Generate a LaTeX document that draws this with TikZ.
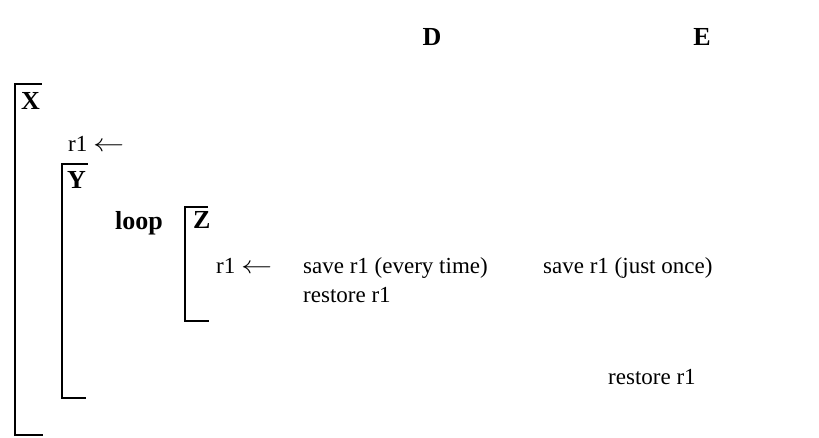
\documentclass[tikz,border=0pt]{standalone}
\usepackage{fontspec}
\setmainfont{Liberation Serif}
\newcommand{\larr}{\scalebox{1.25}[1]{$\leftarrow$}}
\begin{document}
\begin{tikzpicture}[x=1pt,y=-1pt,
  txt/.style={inner sep=0pt,anchor=base west,font=\fontsize{23}{28}\selectfont},
  btxt/.style={txt,font=\fontsize{26}{30}\selectfont\bfseries},
  brk/.style={line width=2pt,line cap=rect}]
\useasboundingbox (0,0) rectangle (819,438);
% column headers
\node[btxt,anchor=base] (D) at (432,46) {D};
\node[btxt,anchor=base] (E) at (702,46) {E};
% bracket X
\node[btxt] (X) at (21,110) {X};
\draw[brk] (41,84) -- (15,84) -- (15,435) -- (42,435);
\node[txt] (r1a) at (68,152) {r1 \larr};
% bracket Y
\node[btxt] (Y) at (67,189) {Y};
\draw[brk] (87,164) -- (62,164) -- (62,398) -- (85,398);
\node[btxt] (loop) at (115,230) {loop};
% bracket Z
\node[btxt] (Z) at (193,229) {Z};
\draw[brk] (207,207) -- (185,207) -- (185,321) -- (208,321);
\node[txt] (r1b) at (216,274) {r1 \larr};
\node[txt] (s1) at (303,274) {save r1 (every time)};
\node[txt] (s2) at (543,274) {save r1 (just once)};
\node[txt] (r1) at (303,302) {restore r1};
\node[txt] (r2) at (608,384) {restore r1};
\end{tikzpicture}
\end{document}
